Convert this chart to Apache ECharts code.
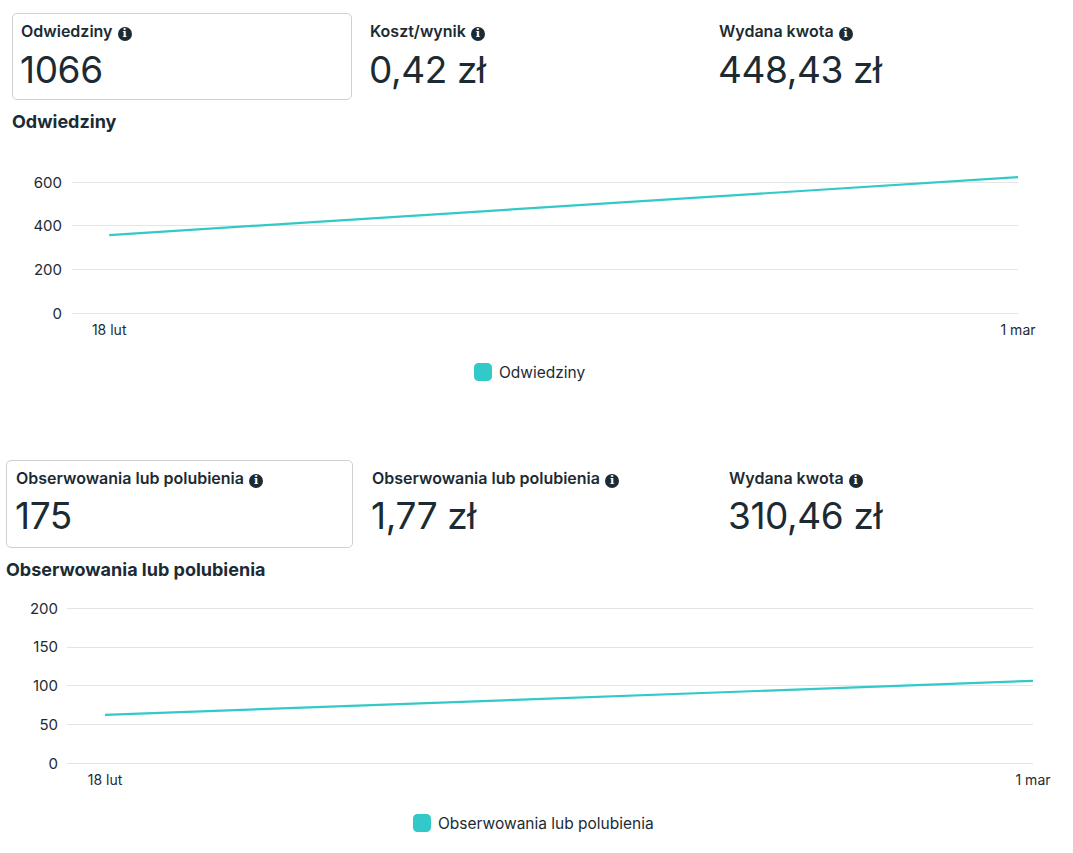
<!DOCTYPE html>
<html>
<head>
<meta charset="utf-8">
<script src="https://cdn.jsdelivr.net/npm/echarts@6/dist/echarts.min.js"></script>
<style>
  html, body { margin: 0; padding: 0; background: #fff; }
  body { width: 1073px; height: 853px; position: relative; overflow: hidden;
         font-family: Inter, 'Noto Sans', sans-serif; color: #1c2b33; }
  .card { position: absolute; border: 1px solid #ced0d4; border-radius: 5px; box-sizing: border-box; }
  .lbl { position: absolute; font-size: 16px; font-weight: 600; line-height: 20px; white-space: nowrap; }
  .val { position: absolute; font-size: 37px; font-weight: 400; line-height: 44px; white-space: nowrap; letter-spacing: -0.4px; }
  .ttl { position: absolute; font-size: 18px; font-weight: 700; line-height: 22px; white-space: nowrap; }
  .info { display: inline-block; width: 14px; height: 14px; border-radius: 50%; background: #1c2b33;
          color: #fff; font-size: 11px; font-weight: 800; line-height: 14px; text-align: center;
          vertical-align: 0px; margin-left: 5px; font-family: 'DejaVu Serif', serif; }
  .chart { position: absolute; left: 0; width: 1073px; }
</style>
</head>
<body>
<!-- sekcja 1 -->
<div class="card" style="left:12px;top:13px;width:340px;height:87px"></div>
<div class="lbl" style="left:21px;top:21px">Odwiedziny<span class="info">i</span></div>
<div class="val" style="left:20px;top:48px">1066</div>
<div class="lbl" style="left:370px;top:21px">Koszt/wynik<span class="info">i</span></div>
<div class="val" style="left:369px;top:48px">0,42 zł</div>
<div class="lbl" style="left:719px;top:21px">Wydana kwota<span class="info">i</span></div>
<div class="val" style="left:718px;top:48px">448,43 zł</div>
<div class="ttl" style="left:12px;top:111px">Odwiedziny</div>
<div id="chart1" class="chart" style="top:150px;height:250px"></div>

<!-- sekcja 2 -->
<div class="card" style="left:6px;top:460px;width:347px;height:88px"></div>
<div class="lbl" style="left:16px;top:468px">Obserwowania lub polubienia<span class="info">i</span></div>
<div class="val" style="left:15px;top:494px">175</div>
<div class="lbl" style="left:372px;top:468px">Obserwowania lub polubienia<span class="info">i</span></div>
<div class="val" style="left:371px;top:494px">1,77 zł</div>
<div class="lbl" style="left:729px;top:468px">Wydana kwota<span class="info">i</span></div>
<div class="val" style="left:728px;top:494px">310,46 zł</div>
<div class="ttl" style="left:6px;top:559px">Obserwowania lub polubienia</div>
<div id="chart2" class="chart" style="top:590px;height:263px"></div>

<script>
// ── Dane ──────────────────────────────────────────────────────────────────
const DATE_LABELS = ['18 lut', '1 mar'];
const DAY_OFFSETS = [0, 11];              // dni od 18 lut
const VISITS      = [357, 622];           // Odwiedziny
const FOLLOWS     = [62, 106];            // Obserwowania lub polubienia
const VISITS_TICKS  = [0, 200, 400, 600];
const FOLLOWS_TICKS = [0, 50, 100, 150, 200];

const LINE_COLOR = '#33c9c9';
const TEXT_COLOR = '#1c2b33';
const GRID_COLOR = '#e3e4e6';

function renderLine(containerId, name, values, ticks, layout) {
  const el = document.getElementById(containerId);
  const chart = echarts.init(el, null, { renderer: 'svg' });
  const step = ticks[1] - ticks[0];

  chart.setOption({
    animation: false,
    textStyle: { fontFamily: 'Inter, Noto Sans, sans-serif' },
    grid: layout.grid,
    legend: {
      data: [name],
      left: layout.legendLeft,
      top: layout.legendTop,
      padding: 0,
      icon: 'roundRect',
      itemWidth: 18,
      itemHeight: 18,
      itemGap: 10,
      textStyle: { color: TEXT_COLOR, fontSize: 15.5, padding: [0, 0, 0, 2] },
      selectedMode: false,
    },
    xAxis: {
      type: 'value',
      min: -0.45,
      max: DAY_OFFSETS[DAY_OFFSETS.length - 1],
      axisLine: { show: false },
      axisTick: { show: false },
      splitLine: { show: false },
      axisLabel: {
        customValues: DAY_OFFSETS,
        formatter: (v) => {
          const i = DAY_OFFSETS.indexOf(v);
          return i >= 0 ? DATE_LABELS[i] : '';
        },
        color: TEXT_COLOR,
        fontSize: 14,
        margin: 9,
      },
    },
    yAxis: {
      type: 'value',
      min: ticks[0],
      max: ticks[ticks.length - 1],
      interval: step,
      axisLine: { show: false },
      axisTick: { show: false },
      axisLabel: { color: TEXT_COLOR, fontSize: 15, margin: layout.yMargin },
      splitLine: { lineStyle: { color: GRID_COLOR, width: 1.2 } },
    },
    series: [{
      name,
      type: 'line',
      data: DAY_OFFSETS.map((d, i) => [d, values[i]]),
      symbol: 'none',
      clip: false,
      itemStyle: { color: LINE_COLOR, borderRadius: 3 },
      lineStyle: { color: LINE_COLOR, width: 2.2 },
    }],
  });
  return chart;
}

renderLine('chart1', 'Odwiedziny', VISITS, VISITS_TICKS, {
  grid: { left: 72, right: 55, top: 32, height: 131 },
  legendLeft: 474, legendTop: 213, yMargin: 10,
});

renderLine('chart2', 'Obserwowania lub polubienia', FOLLOWS, FOLLOWS_TICKS, {
  grid: { left: 67, right: 40, top: 18, height: 155 },
  legendLeft: 413, legendTop: 224, yMargin: 9,
});
</script>
</body>
</html>
